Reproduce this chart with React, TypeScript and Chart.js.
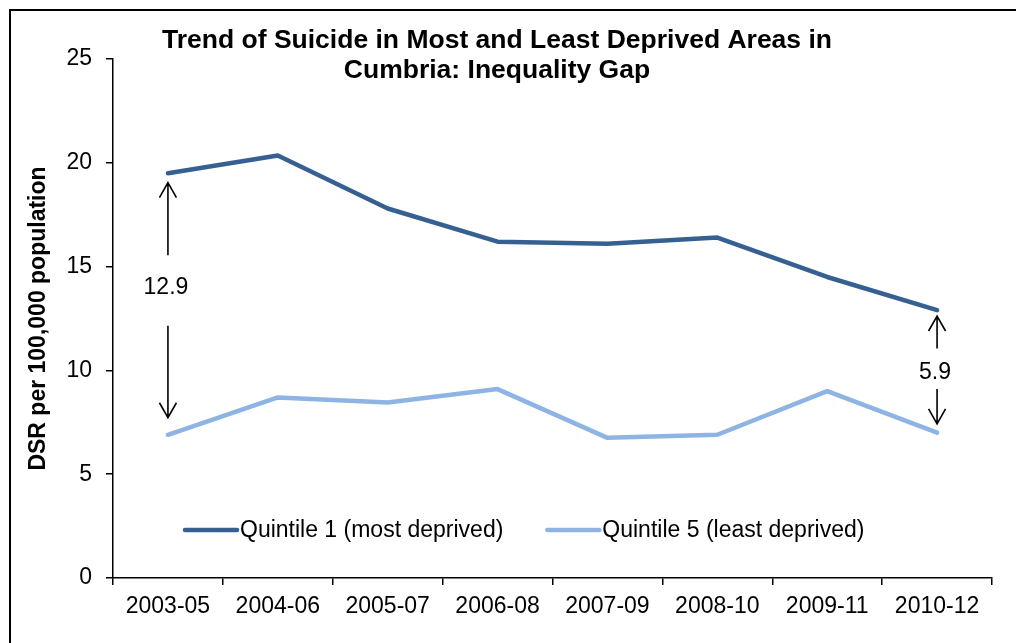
import React, { useEffect, useRef } from 'react';
import { Chart, registerables } from 'chart.js';

Chart.register(...registerables);

// Three-year rolling periods
const periods = ['2003-05', '2004-06', '2005-07', '2006-08', '2007-09', '2008-10', '2009-11', '2010-12'];

// Directly standardised suicide rate per 100,000 population
const quintile1 = [19.5, 20.35, 17.8, 16.2, 16.1, 16.4, 14.5, 12.9];
const quintile5 = [6.9, 8.7, 8.45, 9.1, 6.75, 6.9, 9.0, 7.0];

const seriesNames = ['Quintile 1 (most deprived)', 'Quintile 5 (least deprived)'];
const seriesColours = ['#376092', '#8EB4E3'];

const yMin = 0;
const yMax = 25;
const yStep = 5;

const titleLines = ['Trend of Suicide in Most and Least Deprived Areas in', 'Cumbria: Inequality Gap'];
const yTitle = 'DSR per 100,000 population';

// Gap callouts: arrows between the two series, given in axis units
const gapCallouts = [
  { index: 0, label: '12.9', upTip: 19.05, upEnd: 15.55, textAt: 14.0, downStart: 12.15, downTip: 7.72 },
  { index: 7, label: '5.9', upTip: 12.62, upEnd: 11.06, textAt: 9.9, downStart: 9.1, downTip: 7.42 },
];

const FONT = '"Liberation Sans", Arial, Helvetica, sans-serif';
const TEXT_SIZE = 23;
const W = 1016;
const H = 643;

function drawArrow(ctx: CanvasRenderingContext2D, x: number, from: number, tip: number) {
  const dir = tip < from ? -1 : 1;
  ctx.beginPath();
  ctx.moveTo(x, from);
  ctx.lineTo(x, tip);
  ctx.moveTo(x - 8.5, tip - dir * 15);
  ctx.lineTo(x, tip);
  ctx.lineTo(x + 8.5, tip - dir * 15);
  ctx.stroke();
}

const decorPlugin = {
  id: 'decor',
  afterDraw(chart: any) {
    const ctx: CanvasRenderingContext2D = chart.ctx;
    const area = chart.chartArea;
    const xs = chart.scales.x;
    const ys = chart.scales.y;
    ctx.save();

    // outer frame
    ctx.strokeStyle = '#000';
    ctx.lineWidth = 2;
    ctx.strokeRect(10, 10, W * 2, H * 2);

    // title
    ctx.fillStyle = '#000';
    ctx.font = `bold 26.5px ${FONT}`;
    ctx.textAlign = 'center';
    ctx.textBaseline = 'alphabetic';
    ctx.fillText(titleLines[0], 497, 48);
    ctx.fillText(titleLines[1], 497, 78);

    // y-axis title
    ctx.save();
    ctx.translate(45, (area.top + area.bottom) / 2);
    ctx.rotate(-Math.PI / 2);
    ctx.font = `bold ${TEXT_SIZE}px ${FONT}`;
    ctx.textBaseline = 'alphabetic';
    ctx.fillText(yTitle, 0, 0);
    ctx.restore();

    // legend
    ctx.font = `${TEXT_SIZE}px ${FONT}`;
    ctx.textAlign = 'left';
    ctx.textBaseline = 'middle';
    let lx = area.left + 72;
    const ly = 530;
    chart.data.datasets.forEach((ds: any) => {
      ctx.strokeStyle = ds.borderColor;
      ctx.lineWidth = 4.5;
      ctx.lineCap = 'round';
      ctx.beginPath();
      ctx.moveTo(lx, ly);
      ctx.lineTo(lx + 52, ly);
      ctx.stroke();
      ctx.fillStyle = '#000';
      ctx.fillText(ds.label, lx + 55, ly + 1);
      lx += 55 + ctx.measureText(ds.label).width + 44;
    });

    // gap callouts
    ctx.strokeStyle = '#000';
    ctx.lineWidth = 1.6;
    ctx.lineCap = 'butt';
    ctx.font = `${TEXT_SIZE}px ${FONT}`;
    ctx.textAlign = 'center';
    ctx.textBaseline = 'middle';
    gapCallouts.forEach((g) => {
      const x = xs.getPixelForValue(g.index);
      drawArrow(ctx, x, ys.getPixelForValue(g.upEnd), ys.getPixelForValue(g.upTip));
      drawArrow(ctx, x, ys.getPixelForValue(g.downStart), ys.getPixelForValue(g.downTip));
      ctx.fillStyle = '#000';
      ctx.fillText(g.label, x - 2, ys.getPixelForValue(g.textAt));
    });

    ctx.restore();
  },
};

export default function App() {
  const canvasRef = useRef<HTMLCanvasElement | null>(null);

  useEffect(() => {
    const canvas = canvasRef.current;
    if (!canvas) return;
    const chart = new Chart(canvas, {
      type: 'line',
      data: {
        labels: periods,
        datasets: [quintile1, quintile5].map((values, i) => ({
          label: seriesNames[i],
          data: values,
          borderColor: seriesColours[i],
          backgroundColor: seriesColours[i],
          borderWidth: 4.5,
          borderCapStyle: 'round' as const,
          borderJoinStyle: 'round' as const,
          pointRadius: 0,
          pointHoverRadius: 0,
          tension: 0,
          fill: false,
        })),
      },
      options: {
        animation: false,
        responsive: false,
        devicePixelRatio: 1,
        events: [],
        layout: { padding: { top: 59, right: 24, left: 0, bottom: 0 } },
        plugins: {
          legend: { display: false },
          title: { display: false },
          tooltip: { enabled: false },
        },
        scales: {
          x: {
            type: 'category',
            offset: true,
            grid: {
              display: true,
              drawOnChartArea: false,
              drawTicks: true,
              tickLength: 7,
              offset: true,
              color: '#000',
              lineWidth: 1.5,
            },
            border: { display: true, color: '#000', width: 1.5 },
            ticks: {
              color: '#000',
              font: { family: FONT, size: TEXT_SIZE },
              padding: 8,
              maxRotation: 0,
              autoSkip: false,
            },
            afterFit: (s: any) => {
              s.height = 65;
            },
          },
          y: {
            min: yMin,
            max: yMax,
            grid: {
              display: true,
              drawOnChartArea: false,
              drawTicks: true,
              tickLength: 7,
              color: '#000',
              lineWidth: 1.5,
            },
            border: { display: true, color: '#000', width: 1.5 },
            ticks: {
              stepSize: yStep,
              color: '#000',
              font: { family: FONT, size: TEXT_SIZE },
              padding: 14,
            },
            afterFit: (s: any) => {
              s.width = 113;
            },
          },
        },
      },
      plugins: [decorPlugin],
    });
    return () => chart.destroy();
  }, []);

  return (
    <div style={{ position: 'fixed', left: 0, top: 0, width: W, height: H, background: '#fff', overflow: 'hidden' }}>
      <canvas ref={canvasRef} width={W} height={H} style={{ display: 'block', width: W, height: H }} />
    </div>
  );
}
